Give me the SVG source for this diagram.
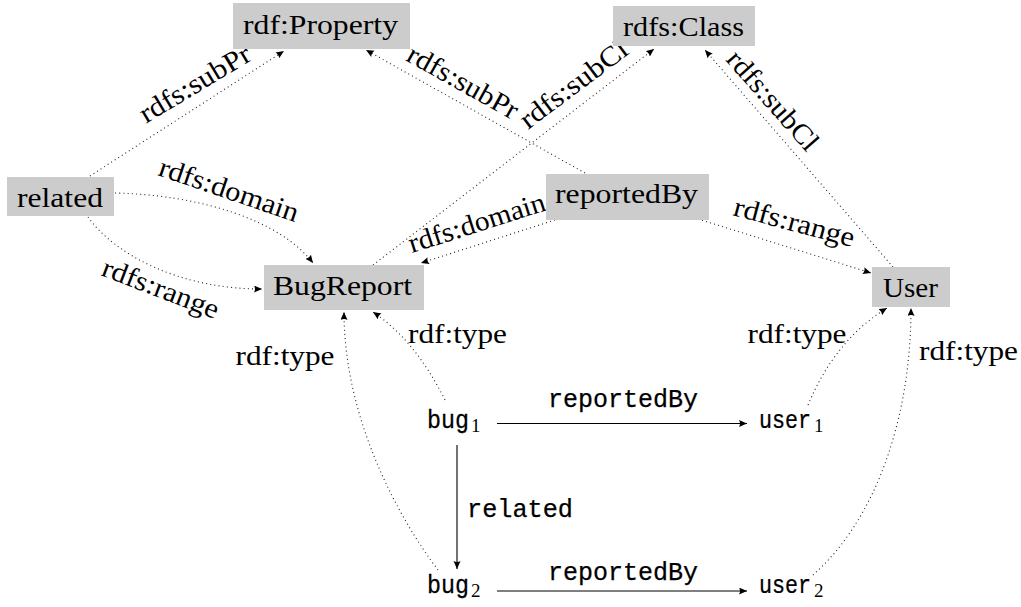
<svg xmlns="http://www.w3.org/2000/svg" width="1021" height="607" viewBox="0 0 1021 607">
<style>
.box{fill:#cccccc}
.sf{font-family:"Liberation Serif",serif;font-size:28px;fill:#000}
.tt{font-family:"Liberation Mono",monospace;font-size:25px;fill:#000;stroke:#000;stroke-width:0.25}
.sub{font-family:"Liberation Serif",serif;font-size:19px;fill:#000;stroke:none}
.dot{fill:none;stroke:#222;stroke-width:1.1;stroke-dasharray:1 3.2}
.solid{fill:none;stroke:#000;stroke-width:1.1}
</style>
<defs>
<marker id="ah" markerUnits="userSpaceOnUse" markerWidth="10" markerHeight="8" refX="8" refY="3.5" orient="auto">
<path d="M0,0 L8,3.5 L0,7 Q2,3.5 0,0 z" fill="#000"/>
</marker>
</defs>
<rect width="1021" height="607" fill="#fff"/>

<g id="connectors">
<path class="dot" d="M90,176 L284,51" marker-end="url(#ah)"/>
<path class="dot" d="M115,193 C200,195 280,220 313,263" marker-end="url(#ah)"/>
<path class="dot" d="M88,217 C115,255 180,289 262,289" marker-end="url(#ah)"/>
<path class="dot" d="M585,173 L366,50" marker-end="url(#ah)"/>
<path class="dot" d="M555,220 L421,263" marker-end="url(#ah)"/>
<path class="dot" d="M698,219 L871,273" marker-end="url(#ah)"/>
<path class="dot" d="M373,265 L654,49" marker-end="url(#ah)"/>
<path class="dot" d="M893,267 L705,50" marker-end="url(#ah)"/>
<path class="dot" d="M445,400 Q415,340 373,312" marker-end="url(#ah)"/>
<path class="dot" d="M438,570 C400,520 344,420 344,312" marker-end="url(#ah)"/>
<path class="dot" d="M808,405 Q835,340 887,308" marker-end="url(#ah)"/>
<path class="dot" d="M813,575 C875,520 911,420 911,308" marker-end="url(#ah)"/>
<path class="solid" d="M497,423.5 L747,423.5" marker-end="url(#ah)"/>
<path class="solid" d="M497,591 L747,591" marker-end="url(#ah)"/>
<path class="solid" d="M457,445 L457,569" marker-end="url(#ah)"/>

<text class="sf" text-anchor="middle" textLength="125" lengthAdjust="spacingAndGlyphs" transform="translate(199.5,91.5) rotate(-31)">rdfs:subPr</text>
<text class="sf" text-anchor="middle" textLength="146" lengthAdjust="spacingAndGlyphs" transform="translate(226,198.5) rotate(18.8)">rdfs:domain</text>
<text class="sf" text-anchor="middle" textLength="123" lengthAdjust="spacingAndGlyphs" transform="translate(157.5,297) rotate(21)">rdfs:range</text>
<text class="sf" text-anchor="middle" textLength="123" lengthAdjust="spacingAndGlyphs" transform="translate(458.5,90) rotate(29.3)">rdfs:subPr</text>
<text class="sf" text-anchor="middle" textLength="128" lengthAdjust="spacingAndGlyphs" transform="translate(579,91.5) rotate(-37)">rdfs:subCl</text>
<text class="sf" text-anchor="middle" textLength="142" lengthAdjust="spacingAndGlyphs" transform="translate(479.5,231.5) rotate(-17.7)">rdfs:domain</text>
<text class="sf" text-anchor="middle" textLength="124" lengthAdjust="spacingAndGlyphs" transform="translate(766,106.5) rotate(48.6)">rdfs:subCl</text>
<text class="sf" text-anchor="middle" textLength="124" lengthAdjust="spacingAndGlyphs" transform="translate(792,231) rotate(15)">rdfs:range</text>
<text class="sf" text-anchor="middle" textLength="99" lengthAdjust="spacingAndGlyphs" x="285" y="365">rdf:type</text>
<text class="sf" text-anchor="middle" textLength="99" lengthAdjust="spacingAndGlyphs" x="457.5" y="343">rdf:type</text>
<text class="sf" text-anchor="middle" textLength="99" lengthAdjust="spacingAndGlyphs" x="797" y="343">rdf:type</text>
<text class="sf" text-anchor="middle" textLength="99" lengthAdjust="spacingAndGlyphs" x="968.5" y="360">rdf:type</text>
<text class="tt" text-anchor="middle" textLength="150" lengthAdjust="spacingAndGlyphs" x="623" y="407">reportedBy</text>
<text class="tt" text-anchor="middle" textLength="150" lengthAdjust="spacingAndGlyphs" x="623" y="580">reportedBy</text>
<text class="tt" text-anchor="middle" textLength="106" lengthAdjust="spacingAndGlyphs" x="520" y="517">related</text>
</g>

<g id="rdfProperty">
<rect class="box" x="233" y="3" width="177" height="46"/>
<text class="sf" text-anchor="middle" textLength="155" lengthAdjust="spacingAndGlyphs" x="320.5" y="34">rdf:Property</text>
</g>
<g id="rdfsClass">
<rect class="box" x="613" y="6" width="142" height="40"/>
<text class="sf" text-anchor="middle" textLength="121" lengthAdjust="spacingAndGlyphs" x="683.5" y="36">rdfs:Class</text>
</g>
<g id="related">
<rect class="box" x="7" y="177" width="107" height="39"/>
<text class="sf" text-anchor="middle" textLength="86" lengthAdjust="spacingAndGlyphs" x="60" y="207">related</text>
</g>
<g id="reportedBy">
<rect class="box" x="546" y="174" width="163" height="46"/>
<text class="sf" text-anchor="middle" textLength="143" lengthAdjust="spacingAndGlyphs" x="626.5" y="203">reportedBy</text>
</g>
<g id="BugReport">
<rect class="box" x="264" y="265" width="160" height="45"/>
<text class="sf" text-anchor="middle" textLength="139" lengthAdjust="spacingAndGlyphs" x="342.5" y="295">BugReport</text>
</g>
<g id="User">
<rect class="box" x="872" y="267" width="78" height="40"/>
<text class="sf" text-anchor="middle" textLength="55" lengthAdjust="spacingAndGlyphs" x="910.5" y="297">User</text>
</g>
<g id="bug1">
<text class="tt" transform="translate(427,428) scale(0.933,1)">bug</text>
<text class="sub" x="471" y="432">1</text>
</g>
<g id="user1">
<text class="tt" transform="translate(759,428) scale(0.867,1)">user</text>
<text class="sub" x="814" y="432">1</text>
</g>
<g id="bug2">
<text class="tt" transform="translate(427,593) scale(0.933,1)">bug</text>
<text class="sub" x="471" y="597">2</text>
</g>
<g id="user2">
<text class="tt" transform="translate(759,593) scale(0.867,1)">user</text>
<text class="sub" x="814" y="597">2</text>
</g>
</svg>
